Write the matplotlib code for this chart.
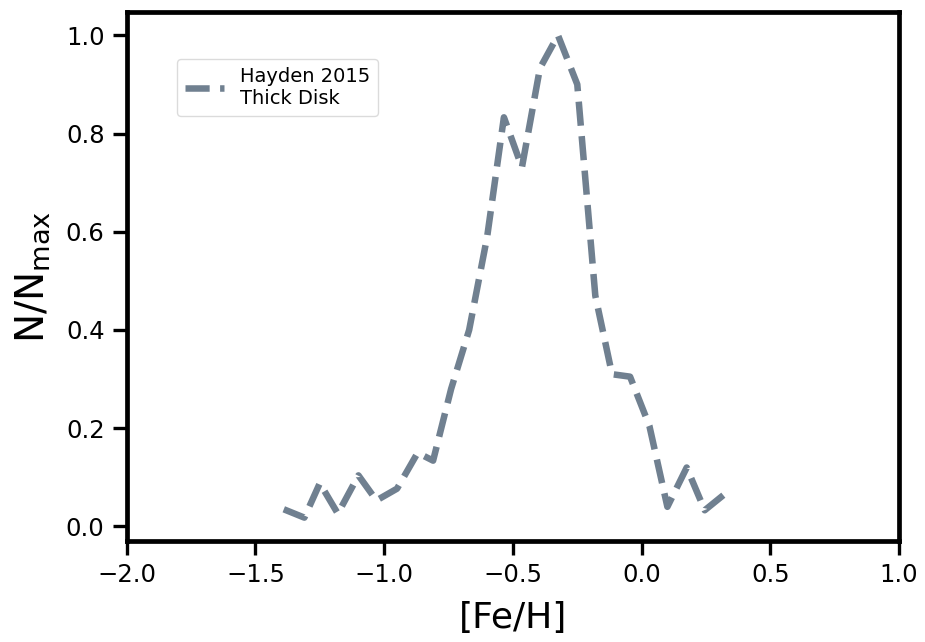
import matplotlib
matplotlib.use("Agg")
import matplotlib.pyplot as plt

# Hayden 2015 thick disk MDF
feh = [-1.39, -1.31, -1.25, -1.18, -1.10, -1.03, -0.95, -0.87, -0.81, -0.74,
       -0.67, -0.60, -0.535, -0.465, -0.395, -0.325, -0.25, -0.18, -0.115,
       -0.045, 0.03, 0.10, 0.175, 0.245, 0.325]
nnorm = [0.035, 0.018, 0.088, 0.026, 0.104, 0.053, 0.077, 0.15, 0.134, 0.28,
         0.40, 0.59, 0.833, 0.731, 0.933, 1.0, 0.90, 0.47, 0.31,
         0.305, 0.205, 0.04, 0.12, 0.033, 0.067]

xticks = [-2.0, -1.5, -1.0, -0.5, 0.0, 0.5, 1.0]
yticks = [0.0, 0.2, 0.4, 0.6, 0.8, 1.0]

fig = plt.figure(figsize=(9.25, 6.42), dpi=100)
ax = fig.add_axes([0.137, 0.157, 0.835, 0.824])

ax.plot(feh, nnorm, linestyle='--', color='slategray', lw=4.7,
        label='Hayden 2015\nThick Disk')

ax.set_xlim(-2.0, 1.0)
ax.set_ylim(-0.03, 1.047)
ax.set_xticks(xticks)
ax.set_yticks(yticks)
ax.set_xticklabels([f"{t:.1f}".replace('-', '\u2212') for t in xticks])
ax.set_yticklabels([f"{t:.1f}" for t in yticks])

ax.set_xlabel('[Fe/H]', fontsize=26, labelpad=10)
ax.set_ylabel(r'N/N$_{\rm max}$', fontsize=28, labelpad=10)

ax.tick_params(axis='both', labelsize=17.5, length=10, width=2.4, pad=6)
for s in ax.spines.values():
    s.set_linewidth(3.4)

ax.legend(loc='upper left', bbox_to_anchor=(0.053, 0.93), fontsize=14,
          frameon=True, edgecolor='lightgray', handlelength=2.0)

fig.savefig('out.png', dpi=100)
